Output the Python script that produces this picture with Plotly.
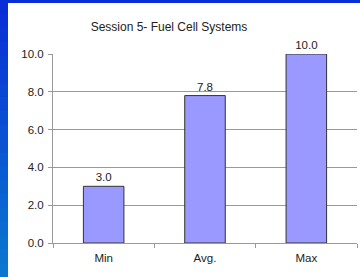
import plotly.graph_objects as go

categories = ["Min", "Avg.", "Max"]
values = [3.0, 7.8, 10.0]
value_labels = ["3.0", "7.8", "10.0"]
y_ticks = [0, 2, 4, 6, 8, 10]
y_tick_labels = ["0.0", "2.0", "4.0", "6.0", "8.0", "10.0"]

W, H = 360, 277
L, R, T, B = 53, 3, 54, 34
pw, ph = W - L - R, H - T - B

def px_x(p):
    return (p - L) / pw

def px_y(p):
    return (H - B - p) / ph

fig = go.Figure()
fig.add_trace(go.Bar(
    x=categories, y=values, width=0.4,
    marker=dict(color="#9999ff", line=dict(color="#333333", width=1)),
    text=value_labels, textposition="outside", cliponaxis=False,
    textfont=dict(family="Liberation Sans, Arial", size=11.5, color="#222222"),
))

shapes = []
# left gradient strip
n = 20
c0 = (10, 46, 214)
c1 = (10, 120, 208)
for i in range(n):
    t = i / (n - 1)
    col = "rgb(%d,%d,%d)" % tuple(int(c0[k] + (c1[k] - c0[k]) * t) for k in range(3))
    y0 = H * i / n
    y1 = H * (i + 1) / n + 1
    shapes.append(dict(type="rect", xref="paper", yref="paper", layer="below",
                       x0=px_x(-2), x1=px_x(8), y0=px_y(y1), y1=px_y(y0),
                       fillcolor=col, line=dict(width=0)))
shapes.append(dict(type="rect", xref="paper", yref="paper", layer="below",
                   x0=px_x(8), x1=px_x(W + 2), y0=px_y(H + 2), y1=px_y(3),
                   fillcolor="white", line=dict(width=0)))

fig.update_layout(
    width=W, height=H,
    margin=dict(l=L, r=R, t=T, b=B, pad=0),
    paper_bgcolor="#0a2ed6",
    plot_bgcolor="rgba(0,0,0,0)",
    showlegend=False,
    shapes=shapes,
    bargap=0.6,
    font=dict(family="Liberation Sans, Arial", size=11.5, color="#222222"),
    title=dict(text="Session 5- Fuel Cell Systems", x=169 / W, xanchor="center",
               xref="container", yref="container", y=1 - 27 / H, yanchor="middle",
               font=dict(size=12, color="#222222")),
    xaxis=dict(showline=True, linecolor="#999999", linewidth=1,
               ticks="outside", ticklen=4, tickcolor="#999999", tickson="boundaries",
               ticklabelstandoff=4,
               showgrid=False, tickfont=dict(size=11.5, color="#222222")),
    yaxis=dict(range=[0, 10], tickvals=y_ticks, ticktext=y_tick_labels,
               showline=True, linecolor="#999999", linewidth=1,
               ticks="outside", ticklen=4, tickcolor="#999999",
               ticklabelstandoff=2,
               showgrid=True, gridcolor="#999999", gridwidth=1,
               zeroline=False, tickfont=dict(size=11.5, color="#222222")),
)

fig.write_html("out.html", config={"displayModeBar": False},
               post_script="document.body.style.margin='0';document.body.style.overflow='hidden';")
